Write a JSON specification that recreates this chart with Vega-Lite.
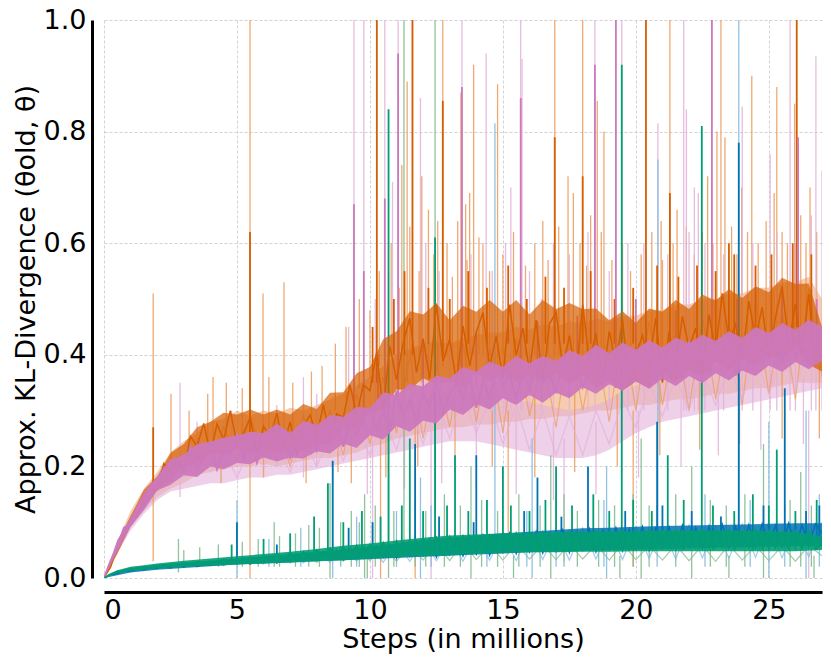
{
 "$schema": "https://vega.github.io/schema/vega-lite/v6.json",
 "width": 718,
 "height": 558,
 "autosize": {"type": "none"},
 "padding": {"left": 104, "top": 20, "right": 9, "bottom": 88},
 "background": "white",
 "config": {
  "view": {"stroke": null},
  "font": "DejaVu Sans",
  "axis": {
   "labelFont": "DejaVu Sans", "titleFont": "DejaVu Sans",
   "labelFontSize": 27, "titleFontSize": 27, "titleFontWeight": "normal",
   "labelColor": "black", "titleColor": "black",
   "domainColor": "black", "domainWidth": 3, "ticks": false,
   "grid": true, "gridDash": [3, 2], "gridColor": "#c8c8c8", "gridWidth": 0.8
  }
 },
 "datasets": {
  "lines": [
   {"s":"o","x":0,"y":0},{"s":"o","x":0.25,"y":0.02},{"s":"o","x":0.5,"y":0.055},{"s":"o","x":0.75,"y":0.073},{"s":"o","x":1,"y":0.105},{"s":"o","x":1.25,"y":0.11},{"s":"o","x":1.5,"y":0.15},{"s":"o","x":1.75,"y":0.157},{"s":"o","x":2,"y":0.158},{"s":"o","x":2.25,"y":0.205},{"s":"o","x":2.5,"y":0.192},{"s":"o","x":2.75,"y":0.215},{"s":"o","x":3,"y":0.19},{"s":"o","x":3.25,"y":0.254},{"s":"o","x":3.5,"y":0.236},{"s":"o","x":3.75,"y":0.277},{"s":"o","x":4,"y":0.222},{"s":"o","x":4.25,"y":0.276},{"s":"o","x":4.5,"y":0.248},{"s":"o","x":4.75,"y":0.3},{"s":"o","x":5,"y":0.24},{"s":"o","x":5.25,"y":0.26},{"s":"o","x":5.5,"y":0.288},{"s":"o","x":5.75,"y":0.224},{"s":"o","x":6,"y":0.272},{"s":"o","x":6.25,"y":0.252},{"s":"o","x":6.5,"y":0.296},{"s":"o","x":6.75,"y":0.236},{"s":"o","x":7,"y":0.28},{"s":"o","x":7.25,"y":0.22},{"s":"o","x":7.5,"y":0.273},{"s":"o","x":7.75,"y":0.292},{"s":"o","x":8,"y":0.254},{"s":"o","x":8.25,"y":0.31},{"s":"o","x":8.5,"y":0.253},{"s":"o","x":8.75,"y":0.294},{"s":"o","x":9,"y":0.288},{"s":"o","x":9.25,"y":0.346},{"s":"o","x":9.5,"y":0.292},{"s":"o","x":9.75,"y":0.346},{"s":"o","x":10,"y":0.336},{"s":"o","x":10.25,"y":0.404},{"s":"o","x":10.5,"y":0.3},{"s":"o","x":10.75,"y":0.415},{"s":"o","x":11,"y":0.355},{"s":"o","x":11.25,"y":0.421},{"s":"o","x":11.5,"y":0.466},{"s":"o","x":11.75,"y":0.368},{"s":"o","x":12,"y":0.429},{"s":"o","x":12.25,"y":0.357},{"s":"o","x":12.5,"y":0.49},{"s":"o","x":12.75,"y":0.389},{"s":"o","x":13,"y":0.428},{"s":"o","x":13.25,"y":0.351},{"s":"o","x":13.5,"y":0.452},{"s":"o","x":13.75,"y":0.38},{"s":"o","x":14,"y":0.441},{"s":"o","x":14.25,"y":0.476},{"s":"o","x":14.5,"y":0.378},{"s":"o","x":14.75,"y":0.434},{"s":"o","x":15,"y":0.357},{"s":"o","x":15.25,"y":0.49},{"s":"o","x":15.5,"y":0.399},{"s":"o","x":15.75,"y":0.448},{"s":"o","x":16,"y":0.371},{"s":"o","x":16.25,"y":0.462},{"s":"o","x":16.5,"y":0.35},{"s":"o","x":16.75,"y":0.455},{"s":"o","x":17,"y":0.476},{"s":"o","x":17.25,"y":0.378},{"s":"o","x":17.5,"y":0.434},{"s":"o","x":17.75,"y":0.357},{"s":"o","x":18,"y":0.49},{"s":"o","x":18.25,"y":0.389},{"s":"o","x":18.5,"y":0.438},{"s":"o","x":18.75,"y":0.351},{"s":"o","x":19,"y":0.442},{"s":"o","x":19.25,"y":0.386},{"s":"o","x":19.5,"y":0.463},{"s":"o","x":19.75,"y":0.344},{"s":"o","x":20,"y":0.4},{"s":"o","x":20.25,"y":0.435},{"s":"o","x":20.5,"y":0.382},{"s":"o","x":20.75,"y":0.466},{"s":"o","x":21,"y":0.35},{"s":"o","x":21.25,"y":0.441},{"s":"o","x":21.5,"y":0.378},{"s":"o","x":21.75,"y":0.469},{"s":"o","x":22,"y":0.413},{"s":"o","x":22.25,"y":0.448},{"s":"o","x":22.5,"y":0.367},{"s":"o","x":22.75,"y":0.472},{"s":"o","x":23,"y":0.405},{"s":"o","x":23.25,"y":0.51},{"s":"o","x":23.5,"y":0.426},{"s":"o","x":23.75,"y":0.454},{"s":"o","x":24,"y":0.391},{"s":"o","x":24.25,"y":0.496},{"s":"o","x":24.5,"y":0.429},{"s":"o","x":24.75,"y":0.485},{"s":"o","x":25,"y":0.394},{"s":"o","x":25.25,"y":0.467},{"s":"o","x":25.5,"y":0.523},{"s":"o","x":25.75,"y":0.418},{"s":"o","x":26,"y":0.491},{"s":"o","x":26.25,"y":0.4},{"s":"o","x":26.5,"y":0.509},{"s":"o","x":26.75,"y":0.384},{"s":"o","x":27,"y":0.41},

   {"s":"p","x":0,"y":0},{"s":"p","x":0.25,"y":0.031},{"s":"p","x":0.5,"y":0.054},{"s":"p","x":0.75,"y":0.09},{"s":"p","x":1,"y":0.096},{"s":"p","x":1.25,"y":0.123},{"s":"p","x":1.5,"y":0.127},{"s":"p","x":1.75,"y":0.167},{"s":"p","x":2,"y":0.168},{"s":"p","x":2.25,"y":0.196},{"s":"p","x":2.5,"y":0.176},{"s":"p","x":2.75,"y":0.205},{"s":"p","x":3,"y":0.191},{"s":"p","x":3.25,"y":0.235},{"s":"p","x":3.5,"y":0.195},{"s":"p","x":3.75,"y":0.215},{"s":"p","x":4,"y":0.241},{"s":"p","x":4.25,"y":0.195},{"s":"p","x":4.5,"y":0.234},{"s":"p","x":4.75,"y":0.222},{"s":"p","x":5,"y":0.257},{"s":"p","x":5.25,"y":0.214},{"s":"p","x":5.5,"y":0.25},{"s":"p","x":5.75,"y":0.207},{"s":"p","x":6,"y":0.246},{"s":"p","x":6.25,"y":0.258},{"s":"p","x":6.5,"y":0.228},{"s":"p","x":6.75,"y":0.264},{"s":"p","x":7,"y":0.216},{"s":"p","x":7.25,"y":0.245},{"s":"p","x":7.5,"y":0.236},{"s":"p","x":7.75,"y":0.274},{"s":"p","x":8,"y":0.229},{"s":"p","x":8.25,"y":0.266},{"s":"p","x":8.5,"y":0.254},{"s":"p","x":8.75,"y":0.282},{"s":"p","x":9,"y":0.235},{"s":"p","x":9.25,"y":0.284},{"s":"p","x":9.5,"y":0.257},{"s":"p","x":9.75,"y":0.285},{"s":"p","x":10,"y":0.304},{"s":"p","x":10.25,"y":0.264},{"s":"p","x":10.5,"y":0.297},{"s":"p","x":10.75,"y":0.263},{"s":"p","x":11,"y":0.335},{"s":"p","x":11.25,"y":0.291},{"s":"p","x":11.5,"y":0.319},{"s":"p","x":11.75,"y":0.282},{"s":"p","x":12,"y":0.331},{"s":"p","x":12.25,"y":0.308},{"s":"p","x":12.5,"y":0.352},{"s":"p","x":12.75,"y":0.297},{"s":"p","x":13,"y":0.33},{"s":"p","x":13.25,"y":0.35},{"s":"p","x":13.5,"y":0.321},{"s":"p","x":13.75,"y":0.365},{"s":"p","x":14,"y":0.305},{"s":"p","x":14.25,"y":0.353},{"s":"p","x":14.5,"y":0.324},{"s":"p","x":14.75,"y":0.372},{"s":"p","x":15,"y":0.346},{"s":"p","x":15.25,"y":0.365},{"s":"p","x":15.5,"y":0.32},{"s":"p","x":15.75,"y":0.374},{"s":"p","x":16,"y":0.337},{"s":"p","x":16.25,"y":0.391},{"s":"p","x":16.5,"y":0.35},{"s":"p","x":16.75,"y":0.365},{"s":"p","x":17,"y":0.335},{"s":"p","x":17.25,"y":0.39},{"s":"p","x":17.5,"y":0.354},{"s":"p","x":17.75,"y":0.385},{"s":"p","x":18,"y":0.342},{"s":"p","x":18.25,"y":0.375},{"s":"p","x":18.5,"y":0.404},{"s":"p","x":18.75,"y":0.352},{"s":"p","x":19,"y":0.386},{"s":"p","x":19.25,"y":0.341},{"s":"p","x":19.5,"y":0.402},{"s":"p","x":19.75,"y":0.364},{"s":"p","x":20,"y":0.401},{"s":"p","x":20.25,"y":0.374},{"s":"p","x":20.5,"y":0.41},{"s":"p","x":20.75,"y":0.351},{"s":"p","x":21,"y":0.399},{"s":"p","x":21.25,"y":0.368},{"s":"p","x":21.5,"y":0.394},{"s":"p","x":21.75,"y":0.363},{"s":"p","x":22,"y":0.425},{"s":"p","x":22.25,"y":0.387},{"s":"p","x":22.5,"y":0.41},{"s":"p","x":22.75,"y":0.365},{"s":"p","x":23,"y":0.416},{"s":"p","x":23.25,"y":0.385},{"s":"p","x":23.5,"y":0.429},{"s":"p","x":23.75,"y":0.363},{"s":"p","x":24,"y":0.411},{"s":"p","x":24.25,"y":0.388},{"s":"p","x":24.5,"y":0.43},{"s":"p","x":24.75,"y":0.386},{"s":"p","x":25,"y":0.414},{"s":"p","x":25.25,"y":0.429},{"s":"p","x":25.5,"y":0.387},{"s":"p","x":25.75,"y":0.441},{"s":"p","x":26,"y":0.394},{"s":"p","x":26.25,"y":0.423},{"s":"p","x":26.5,"y":0.385},{"s":"p","x":26.75,"y":0.446},{"s":"p","x":27,"y":0.41},

   {"s":"b","x":0,"y":0},{"s":"b","x":0.25,"y":0.006},{"s":"b","x":0.5,"y":0.008},{"s":"b","x":0.75,"y":0.014},{"s":"b","x":1,"y":0.012},{"s":"b","x":1.25,"y":0.017},{"s":"b","x":1.5,"y":0.015},{"s":"b","x":1.75,"y":0.02},{"s":"b","x":2,"y":0.017},{"s":"b","x":2.25,"y":0.023},{"s":"b","x":2.5,"y":0.018},{"s":"b","x":2.75,"y":0.024},{"s":"b","x":3,"y":0.02},{"s":"b","x":3.25,"y":0.027},{"s":"b","x":3.5,"y":0.021},{"s":"b","x":3.75,"y":0.028},{"s":"b","x":4,"y":0.023},{"s":"b","x":4.25,"y":0.031},{"s":"b","x":4.5,"y":0.024},{"s":"b","x":4.75,"y":0.033},{"s":"b","x":5,"y":0.026},{"s":"b","x":5.25,"y":0.036},{"s":"b","x":5.5,"y":0.025},{"s":"b","x":5.75,"y":0.035},{"s":"b","x":6,"y":0.028},{"s":"b","x":6.25,"y":0.04},{"s":"b","x":6.5,"y":0.027},{"s":"b","x":6.75,"y":0.038},{"s":"b","x":7,"y":0.03},{"s":"b","x":7.25,"y":0.043},{"s":"b","x":7.5,"y":0.031},{"s":"b","x":7.75,"y":0.045},{"s":"b","x":8,"y":0.032},{"s":"b","x":8.25,"y":0.047},{"s":"b","x":8.5,"y":0.034},{"s":"b","x":8.75,"y":0.05},{"s":"b","x":9,"y":0.033},{"s":"b","x":9.25,"y":0.052},{"s":"b","x":9.5,"y":0.036},{"s":"b","x":9.75,"y":0.055},{"s":"b","x":10,"y":0.035},{"s":"b","x":10.25,"y":0.058},{"s":"b","x":10.5,"y":0.037},{"s":"b","x":10.75,"y":0.06},{"s":"b","x":11,"y":0.036},{"s":"b","x":11.25,"y":0.063},{"s":"b","x":11.5,"y":0.039},{"s":"b","x":11.75,"y":0.066},{"s":"b","x":12,"y":0.04},{"s":"b","x":12.25,"y":0.07},{"s":"b","x":12.5,"y":0.038},{"s":"b","x":12.75,"y":0.068},{"s":"b","x":13,"y":0.042},{"s":"b","x":13.25,"y":0.072},{"s":"b","x":13.5,"y":0.04},{"s":"b","x":13.75,"y":0.075},{"s":"b","x":14,"y":0.043},{"s":"b","x":14.25,"y":0.077},{"s":"b","x":14.5,"y":0.041},{"s":"b","x":14.75,"y":0.074},{"s":"b","x":15,"y":0.046},{"s":"b","x":15.25,"y":0.08},{"s":"b","x":15.5,"y":0.044},{"s":"b","x":15.75,"y":0.078},{"s":"b","x":16,"y":0.047},{"s":"b","x":16.25,"y":0.083},{"s":"b","x":16.5,"y":0.045},{"s":"b","x":16.75,"y":0.08},{"s":"b","x":17,"y":0.048},{"s":"b","x":17.25,"y":0.086},{"s":"b","x":17.5,"y":0.046},{"s":"b","x":17.75,"y":0.082},{"s":"b","x":18,"y":0.05},{"s":"b","x":18.25,"y":0.088},{"s":"b","x":18.5,"y":0.047},{"s":"b","x":18.75,"y":0.085},{"s":"b","x":19,"y":0.051},{"s":"b","x":19.25,"y":0.09},{"s":"b","x":19.5,"y":0.049},{"s":"b","x":19.75,"y":0.087},{"s":"b","x":20,"y":0.052},{"s":"b","x":20.25,"y":0.092},{"s":"b","x":20.5,"y":0.05},{"s":"b","x":20.75,"y":0.089},{"s":"b","x":21,"y":0.053},{"s":"b","x":21.25,"y":0.091},{"s":"b","x":21.5,"y":0.051},{"s":"b","x":21.75,"y":0.094},{"s":"b","x":22,"y":0.054},{"s":"b","x":22.25,"y":0.09},{"s":"b","x":22.5,"y":0.052},{"s":"b","x":22.75,"y":0.093},{"s":"b","x":23,"y":0.055},{"s":"b","x":23.25,"y":0.096},{"s":"b","x":23.5,"y":0.053},{"s":"b","x":23.75,"y":0.092},{"s":"b","x":24,"y":0.056},{"s":"b","x":24.25,"y":0.095},{"s":"b","x":24.5,"y":0.054},{"s":"b","x":24.75,"y":0.097},{"s":"b","x":25,"y":0.057},{"s":"b","x":25.25,"y":0.094},{"s":"b","x":25.5,"y":0.055},{"s":"b","x":25.75,"y":0.098},{"s":"b","x":26,"y":0.058},{"s":"b","x":26.25,"y":0.095},{"s":"b","x":26.5,"y":0.056},{"s":"b","x":26.75,"y":0.097},{"s":"b","x":27,"y":0.08},

   {"s":"g","x":0,"y":0},{"s":"g","x":0.25,"y":0.007},{"s":"g","x":0.5,"y":0.012},{"s":"g","x":0.75,"y":0.013},{"s":"g","x":1,"y":0.017},{"s":"g","x":1.25,"y":0.016},{"s":"g","x":1.5,"y":0.02},{"s":"g","x":1.75,"y":0.018},{"s":"g","x":2,"y":0.022},{"s":"g","x":2.25,"y":0.019},{"s":"g","x":2.5,"y":0.024},{"s":"g","x":2.75,"y":0.021},{"s":"g","x":3,"y":0.026},{"s":"g","x":3.25,"y":0.022},{"s":"g","x":3.5,"y":0.029},{"s":"g","x":3.75,"y":0.024},{"s":"g","x":4,"y":0.03},{"s":"g","x":4.25,"y":0.025},{"s":"g","x":4.5,"y":0.033},{"s":"g","x":4.75,"y":0.026},{"s":"g","x":5,"y":0.034},{"s":"g","x":5.25,"y":0.027},{"s":"g","x":5.5,"y":0.037},{"s":"g","x":5.75,"y":0.028},{"s":"g","x":6,"y":0.04},{"s":"g","x":6.25,"y":0.03},{"s":"g","x":6.5,"y":0.042},{"s":"g","x":6.75,"y":0.031},{"s":"g","x":7,"y":0.045},{"s":"g","x":7.25,"y":0.032},{"s":"g","x":7.5,"y":0.047},{"s":"g","x":7.75,"y":0.033},{"s":"g","x":8,"y":0.05},{"s":"g","x":8.25,"y":0.034},{"s":"g","x":8.5,"y":0.053},{"s":"g","x":8.75,"y":0.035},{"s":"g","x":9,"y":0.056},{"s":"g","x":9.25,"y":0.037},{"s":"g","x":9.5,"y":0.058},{"s":"g","x":9.75,"y":0.038},{"s":"g","x":10,"y":0.06},{"s":"g","x":10.25,"y":0.039},{"s":"g","x":10.5,"y":0.063},{"s":"g","x":10.75,"y":0.04},{"s":"g","x":11,"y":0.066},{"s":"g","x":11.25,"y":0.042},{"s":"g","x":11.5,"y":0.068},{"s":"g","x":11.75,"y":0.043},{"s":"g","x":12,"y":0.07},{"s":"g","x":12.25,"y":0.044},{"s":"g","x":12.5,"y":0.072},{"s":"g","x":12.75,"y":0.045},{"s":"g","x":13,"y":0.074},{"s":"g","x":13.25,"y":0.046},{"s":"g","x":13.5,"y":0.075},{"s":"g","x":13.75,"y":0.047},{"s":"g","x":14,"y":0.077},{"s":"g","x":14.25,"y":0.048},{"s":"g","x":14.5,"y":0.076},{"s":"g","x":14.75,"y":0.049},{"s":"g","x":15,"y":0.079},{"s":"g","x":15.25,"y":0.05},{"s":"g","x":15.5,"y":0.08},{"s":"g","x":15.75,"y":0.05},{"s":"g","x":16,"y":0.078},{"s":"g","x":16.25,"y":0.051},{"s":"g","x":16.5,"y":0.082},{"s":"g","x":16.75,"y":0.05},{"s":"g","x":17,"y":0.08},{"s":"g","x":17.25,"y":0.052},{"s":"g","x":17.5,"y":0.083},{"s":"g","x":17.75,"y":0.051},{"s":"g","x":18,"y":0.081},{"s":"g","x":18.25,"y":0.053},{"s":"g","x":18.5,"y":0.084},{"s":"g","x":18.75,"y":0.052},{"s":"g","x":19,"y":0.082},{"s":"g","x":19.25,"y":0.054},{"s":"g","x":19.5,"y":0.085},{"s":"g","x":19.75,"y":0.053},{"s":"g","x":20,"y":0.083},{"s":"g","x":20.25,"y":0.054},{"s":"g","x":20.5,"y":0.086},{"s":"g","x":20.75,"y":0.053},{"s":"g","x":21,"y":0.084},{"s":"g","x":21.25,"y":0.055},{"s":"g","x":21.5,"y":0.085},{"s":"g","x":21.75,"y":0.054},{"s":"g","x":22,"y":0.083},{"s":"g","x":22.25,"y":0.055},{"s":"g","x":22.5,"y":0.086},{"s":"g","x":22.75,"y":0.054},{"s":"g","x":23,"y":0.084},{"s":"g","x":23.25,"y":0.055},{"s":"g","x":23.5,"y":0.085},{"s":"g","x":23.75,"y":0.054},{"s":"g","x":24,"y":0.083},{"s":"g","x":24.25,"y":0.055},{"s":"g","x":24.5,"y":0.086},{"s":"g","x":24.75,"y":0.053},{"s":"g","x":25,"y":0.084},{"s":"g","x":25.25,"y":0.054},{"s":"g","x":25.5,"y":0.083},{"s":"g","x":25.75,"y":0.052},{"s":"g","x":26,"y":0.082},{"s":"g","x":26.25,"y":0.053},{"s":"g","x":26.5,"y":0.084},{"s":"g","x":26.75,"y":0.052},{"s":"g","x":27,"y":0.06},

   {"s":"ol","x":0,"y":0},{"s":"ol","x":0.5,"y":0.06},{"s":"ol","x":1,"y":0.11},{"s":"ol","x":1.5,"y":0.15},{"s":"ol","x":2,"y":0.17},{"s":"ol","x":2.5,"y":0.21},{"s":"ol","x":3,"y":0.19},{"s":"ol","x":3.5,"y":0.25},{"s":"ol","x":4,"y":0.2},{"s":"ol","x":4.5,"y":0.27},{"s":"ol","x":5,"y":0.21},{"s":"ol","x":5.5,"y":0.29},{"s":"ol","x":6,"y":0.22},{"s":"ol","x":6.5,"y":0.28},{"s":"ol","x":7,"y":0.2},{"s":"ol","x":7.5,"y":0.29},{"s":"ol","x":8,"y":0.23},{"s":"ol","x":8.5,"y":0.3},{"s":"ol","x":9,"y":0.22},{"s":"ol","x":9.5,"y":0.33},{"s":"ol","x":10,"y":0.24},{"s":"ol","x":10.5,"y":0.36},{"s":"ol","x":11,"y":0.26},{"s":"ol","x":11.5,"y":0.4},{"s":"ol","x":12,"y":0.25},{"s":"ol","x":12.5,"y":0.38},{"s":"ol","x":13,"y":0.27},{"s":"ol","x":13.5,"y":0.42},{"s":"ol","x":14,"y":0.28},{"s":"ol","x":14.5,"y":0.41},{"s":"ol","x":15,"y":0.26},{"s":"ol","x":15.5,"y":0.43},{"s":"ol","x":16,"y":0.29},{"s":"ol","x":16.5,"y":0.4},{"s":"ol","x":17,"y":0.27},{"s":"ol","x":17.5,"y":0.44},{"s":"ol","x":18,"y":0.3},{"s":"ol","x":18.5,"y":0.42},{"s":"ol","x":19,"y":0.28},{"s":"ol","x":19.5,"y":0.45},{"s":"ol","x":20,"y":0.3},{"s":"ol","x":20.5,"y":0.46},{"s":"ol","x":21,"y":0.31},{"s":"ol","x":21.5,"y":0.44},{"s":"ol","x":22,"y":0.3},{"s":"ol","x":22.5,"y":0.47},{"s":"ol","x":23,"y":0.32},{"s":"ol","x":23.5,"y":0.46},{"s":"ol","x":24,"y":0.31},{"s":"ol","x":24.5,"y":0.5},{"s":"ol","x":25,"y":0.33},{"s":"ol","x":25.5,"y":0.48},{"s":"ol","x":26,"y":0.32},{"s":"ol","x":26.5,"y":0.52},{"s":"ol","x":27,"y":0.36},

   {"s":"pl","x":0,"y":0},{"s":"pl","x":0.5,"y":0.055},{"s":"pl","x":1,"y":0.1},{"s":"pl","x":1.5,"y":0.135},{"s":"pl","x":2,"y":0.16},{"s":"pl","x":2.5,"y":0.185},{"s":"pl","x":3,"y":0.18},{"s":"pl","x":3.5,"y":0.22},{"s":"pl","x":4,"y":0.19},{"s":"pl","x":4.5,"y":0.23},{"s":"pl","x":5,"y":0.18},{"s":"pl","x":5.5,"y":0.235},{"s":"pl","x":6,"y":0.2},{"s":"pl","x":6.5,"y":0.24},{"s":"pl","x":7,"y":0.19},{"s":"pl","x":7.5,"y":0.25},{"s":"pl","x":8,"y":0.2},{"s":"pl","x":8.5,"y":0.26},{"s":"pl","x":9,"y":0.21},{"s":"pl","x":9.5,"y":0.27},{"s":"pl","x":10,"y":0.22},{"s":"pl","x":10.5,"y":0.29},{"s":"pl","x":11,"y":0.23},{"s":"pl","x":11.5,"y":0.31},{"s":"pl","x":12,"y":0.24},{"s":"pl","x":12.5,"y":0.32},{"s":"pl","x":13,"y":0.25},{"s":"pl","x":13.5,"y":0.33},{"s":"pl","x":14,"y":0.26},{"s":"pl","x":14.5,"y":0.32},{"s":"pl","x":15,"y":0.24},{"s":"pl","x":15.5,"y":0.31},{"s":"pl","x":16,"y":0.23},{"s":"pl","x":16.5,"y":0.3},{"s":"pl","x":17,"y":0.22},{"s":"pl","x":17.5,"y":0.29},{"s":"pl","x":18,"y":0.22},{"s":"pl","x":18.5,"y":0.3},{"s":"pl","x":19,"y":0.24},{"s":"pl","x":19.5,"y":0.32},{"s":"pl","x":20,"y":0.27},{"s":"pl","x":20.5,"y":0.35},{"s":"pl","x":21,"y":0.29},{"s":"pl","x":21.5,"y":0.36},{"s":"pl","x":22,"y":0.3},{"s":"pl","x":22.5,"y":0.37},{"s":"pl","x":23,"y":0.31},{"s":"pl","x":23.5,"y":0.38},{"s":"pl","x":24,"y":0.32},{"s":"pl","x":24.5,"y":0.39},{"s":"pl","x":25,"y":0.33},{"s":"pl","x":25.5,"y":0.4},{"s":"pl","x":26,"y":0.34},{"s":"pl","x":26.5,"y":0.41},{"s":"pl","x":27,"y":0.38},

   {"s":"bl","x":0,"y":0},{"s":"bl","x":0.5,"y":0.01},{"s":"bl","x":1,"y":0.016},{"s":"bl","x":1.5,"y":0.014},{"s":"bl","x":2,"y":0.022},{"s":"bl","x":2.5,"y":0.018},{"s":"bl","x":3,"y":0.028},{"s":"bl","x":3.5,"y":0.02},{"s":"bl","x":4,"y":0.03},{"s":"bl","x":4.5,"y":0.022},{"s":"bl","x":5,"y":0.034},{"s":"bl","x":5.5,"y":0.024},{"s":"bl","x":6,"y":0.038},{"s":"bl","x":6.5,"y":0.026},{"s":"bl","x":7,"y":0.042},{"s":"bl","x":7.5,"y":0.027},{"s":"bl","x":8,"y":0.05},{"s":"bl","x":8.5,"y":0.028},{"s":"bl","x":9,"y":0.055},{"s":"bl","x":9.5,"y":0.03},{"s":"bl","x":10,"y":0.06},{"s":"bl","x":10.5,"y":0.028},{"s":"bl","x":11,"y":0.065},{"s":"bl","x":11.5,"y":0.03},{"s":"bl","x":12,"y":0.07},{"s":"bl","x":12.5,"y":0.031},{"s":"bl","x":13,"y":0.072},{"s":"bl","x":13.5,"y":0.03},{"s":"bl","x":14,"y":0.075},{"s":"bl","x":14.5,"y":0.032},{"s":"bl","x":15,"y":0.08},{"s":"bl","x":15.5,"y":0.031},{"s":"bl","x":16,"y":0.082},{"s":"bl","x":16.5,"y":0.033},{"s":"bl","x":17,"y":0.085},{"s":"bl","x":17.5,"y":0.032},{"s":"bl","x":18,"y":0.09},{"s":"bl","x":18.5,"y":0.034},{"s":"bl","x":19,"y":0.088},{"s":"bl","x":19.5,"y":0.033},{"s":"bl","x":20,"y":0.092},{"s":"bl","x":20.5,"y":0.035},{"s":"bl","x":21,"y":0.09},{"s":"bl","x":21.5,"y":0.034},{"s":"bl","x":22,"y":0.095},{"s":"bl","x":22.5,"y":0.036},{"s":"bl","x":23,"y":0.093},{"s":"bl","x":23.5,"y":0.035},{"s":"bl","x":24,"y":0.097},{"s":"bl","x":24.5,"y":0.037},{"s":"bl","x":25,"y":0.1},{"s":"bl","x":25.5,"y":0.036},{"s":"bl","x":26,"y":0.098},{"s":"bl","x":26.5,"y":0.038},{"s":"bl","x":27,"y":0.1},

   {"s":"gl","x":0,"y":0},{"s":"gl","x":0.5,"y":0.012},{"s":"gl","x":1,"y":0.015},{"s":"gl","x":1.5,"y":0.02},{"s":"gl","x":2,"y":0.018},{"s":"gl","x":2.5,"y":0.025},{"s":"gl","x":3,"y":0.02},{"s":"gl","x":3.5,"y":0.03},{"s":"gl","x":4,"y":0.022},{"s":"gl","x":4.5,"y":0.034},{"s":"gl","x":5,"y":0.024},{"s":"gl","x":5.5,"y":0.038},{"s":"gl","x":6,"y":0.025},{"s":"gl","x":6.5,"y":0.042},{"s":"gl","x":7,"y":0.027},{"s":"gl","x":7.5,"y":0.046},{"s":"gl","x":8,"y":0.028},{"s":"gl","x":8.5,"y":0.05},{"s":"gl","x":9,"y":0.03},{"s":"gl","x":9.5,"y":0.055},{"s":"gl","x":10,"y":0.031},{"s":"gl","x":10.5,"y":0.058},{"s":"gl","x":11,"y":0.03},{"s":"gl","x":11.5,"y":0.06},{"s":"gl","x":12,"y":0.032},{"s":"gl","x":12.5,"y":0.062},{"s":"gl","x":13,"y":0.031},{"s":"gl","x":13.5,"y":0.063},{"s":"gl","x":14,"y":0.033},{"s":"gl","x":14.5,"y":0.06},{"s":"gl","x":15,"y":0.032},{"s":"gl","x":15.5,"y":0.062},{"s":"gl","x":16,"y":0.034},{"s":"gl","x":16.5,"y":0.06},{"s":"gl","x":17,"y":0.033},{"s":"gl","x":17.5,"y":0.061},{"s":"gl","x":18,"y":0.034},{"s":"gl","x":18.5,"y":0.06},{"s":"gl","x":19,"y":0.032},{"s":"gl","x":19.5,"y":0.062},{"s":"gl","x":20,"y":0.033},{"s":"gl","x":20.5,"y":0.058},{"s":"gl","x":21,"y":0.032},{"s":"gl","x":21.5,"y":0.06},{"s":"gl","x":22,"y":0.031},{"s":"gl","x":22.5,"y":0.059},{"s":"gl","x":23,"y":0.03},{"s":"gl","x":23.5,"y":0.06},{"s":"gl","x":24,"y":0.032},{"s":"gl","x":24.5,"y":0.058},{"s":"gl","x":25,"y":0.031},{"s":"gl","x":25.5,"y":0.057},{"s":"gl","x":26,"y":0.03},{"s":"gl","x":26.5,"y":0.058},{"s":"gl","x":27,"y":0.04}
  ],
  "bands": [
   {"s":"ol","x":0,"lo":0,"hi":0},{"s":"ol","x":0.5,"lo":0.045,"hi":0.065},{"s":"ol","x":1,"lo":0.09,"hi":0.12},{"s":"ol","x":1.5,"lo":0.12,"hi":0.16},{"s":"ol","x":2,"lo":0.145,"hi":0.19},{"s":"ol","x":2.5,"lo":0.16,"hi":0.225},{"s":"ol","x":3,"lo":0.17,"hi":0.245},{"s":"ol","x":3.5,"lo":0.185,"hi":0.26},{"s":"ol","x":4,"lo":0.19,"hi":0.28},{"s":"ol","x":4.5,"lo":0.195,"hi":0.285},{"s":"ol","x":5,"lo":0.2,"hi":0.3},{"s":"ol","x":5.5,"lo":0.2,"hi":0.29},{"s":"ol","x":6,"lo":0.205,"hi":0.3},{"s":"ol","x":6.5,"lo":0.2,"hi":0.295},{"s":"ol","x":7,"lo":0.205,"hi":0.305},{"s":"ol","x":7.5,"lo":0.21,"hi":0.3},{"s":"ol","x":8,"lo":0.215,"hi":0.31},{"s":"ol","x":8.5,"lo":0.215,"hi":0.32},{"s":"ol","x":9,"lo":0.22,"hi":0.33},{"s":"ol","x":9.5,"lo":0.225,"hi":0.345},{"s":"ol","x":10,"lo":0.235,"hi":0.36},{"s":"ol","x":10.5,"lo":0.24,"hi":0.38},{"s":"ol","x":11,"lo":0.25,"hi":0.4},{"s":"ol","x":11.5,"lo":0.255,"hi":0.41},{"s":"ol","x":12,"lo":0.26,"hi":0.42},{"s":"ol","x":12.5,"lo":0.265,"hi":0.425},{"s":"ol","x":13,"lo":0.27,"hi":0.42},{"s":"ol","x":13.5,"lo":0.27,"hi":0.43},{"s":"ol","x":14,"lo":0.275,"hi":0.435},{"s":"ol","x":14.5,"lo":0.275,"hi":0.44},{"s":"ol","x":15,"lo":0.28,"hi":0.44},{"s":"ol","x":15.5,"lo":0.28,"hi":0.45},{"s":"ol","x":16,"lo":0.285,"hi":0.445},{"s":"ol","x":16.5,"lo":0.285,"hi":0.455},{"s":"ol","x":17,"lo":0.29,"hi":0.45},{"s":"ol","x":17.5,"lo":0.29,"hi":0.46},{"s":"ol","x":18,"lo":0.295,"hi":0.455},{"s":"ol","x":18.5,"lo":0.3,"hi":0.465},{"s":"ol","x":19,"lo":0.3,"hi":0.46},{"s":"ol","x":19.5,"lo":0.305,"hi":0.47},{"s":"ol","x":20,"lo":0.31,"hi":0.47},{"s":"ol","x":20.5,"lo":0.31,"hi":0.48},{"s":"ol","x":21,"lo":0.315,"hi":0.48},{"s":"ol","x":21.5,"lo":0.32,"hi":0.49},{"s":"ol","x":22,"lo":0.32,"hi":0.49},{"s":"ol","x":22.5,"lo":0.325,"hi":0.5},{"s":"ol","x":23,"lo":0.33,"hi":0.5},{"s":"ol","x":23.5,"lo":0.33,"hi":0.51},{"s":"ol","x":24,"lo":0.335,"hi":0.51},{"s":"ol","x":24.5,"lo":0.34,"hi":0.52},{"s":"ol","x":25,"lo":0.34,"hi":0.52},{"s":"ol","x":25.5,"lo":0.345,"hi":0.53},{"s":"ol","x":26,"lo":0.35,"hi":0.53},{"s":"ol","x":26.5,"lo":0.35,"hi":0.54},{"s":"ol","x":27,"lo":0.35,"hi":0.5},

   {"s":"pl","x":0,"lo":0,"hi":0},{"s":"pl","x":0.5,"lo":0.045,"hi":0.06},{"s":"pl","x":1,"lo":0.085,"hi":0.105},{"s":"pl","x":1.5,"lo":0.115,"hi":0.145},{"s":"pl","x":2,"lo":0.14,"hi":0.17},{"s":"pl","x":2.5,"lo":0.155,"hi":0.195},{"s":"pl","x":3,"lo":0.16,"hi":0.21},{"s":"pl","x":3.5,"lo":0.165,"hi":0.22},{"s":"pl","x":4,"lo":0.17,"hi":0.225},{"s":"pl","x":4.5,"lo":0.17,"hi":0.23},{"s":"pl","x":5,"lo":0.175,"hi":0.235},{"s":"pl","x":5.5,"lo":0.18,"hi":0.24},{"s":"pl","x":6,"lo":0.18,"hi":0.245},{"s":"pl","x":6.5,"lo":0.185,"hi":0.25},{"s":"pl","x":7,"lo":0.185,"hi":0.255},{"s":"pl","x":7.5,"lo":0.19,"hi":0.26},{"s":"pl","x":8,"lo":0.195,"hi":0.265},{"s":"pl","x":8.5,"lo":0.2,"hi":0.27},{"s":"pl","x":9,"lo":0.205,"hi":0.28},{"s":"pl","x":9.5,"lo":0.21,"hi":0.29},{"s":"pl","x":10,"lo":0.215,"hi":0.3},{"s":"pl","x":10.5,"lo":0.22,"hi":0.305},{"s":"pl","x":11,"lo":0.225,"hi":0.31},{"s":"pl","x":11.5,"lo":0.23,"hi":0.315},{"s":"pl","x":12,"lo":0.235,"hi":0.32},{"s":"pl","x":12.5,"lo":0.24,"hi":0.33},{"s":"pl","x":13,"lo":0.245,"hi":0.335},{"s":"pl","x":13.5,"lo":0.245,"hi":0.335},{"s":"pl","x":14,"lo":0.245,"hi":0.33},{"s":"pl","x":14.5,"lo":0.24,"hi":0.33},{"s":"pl","x":15,"lo":0.235,"hi":0.325},{"s":"pl","x":15.5,"lo":0.23,"hi":0.32},{"s":"pl","x":16,"lo":0.225,"hi":0.315},{"s":"pl","x":16.5,"lo":0.22,"hi":0.31},{"s":"pl","x":17,"lo":0.215,"hi":0.305},{"s":"pl","x":17.5,"lo":0.215,"hi":0.3},{"s":"pl","x":18,"lo":0.215,"hi":0.305},{"s":"pl","x":18.5,"lo":0.22,"hi":0.31},{"s":"pl","x":19,"lo":0.23,"hi":0.32},{"s":"pl","x":19.5,"lo":0.245,"hi":0.335},{"s":"pl","x":20,"lo":0.26,"hi":0.345},{"s":"pl","x":20.5,"lo":0.27,"hi":0.355},{"s":"pl","x":21,"lo":0.28,"hi":0.36},{"s":"pl","x":21.5,"lo":0.285,"hi":0.365},{"s":"pl","x":22,"lo":0.29,"hi":0.37},{"s":"pl","x":22.5,"lo":0.295,"hi":0.375},{"s":"pl","x":23,"lo":0.3,"hi":0.38},{"s":"pl","x":23.5,"lo":0.305,"hi":0.385},{"s":"pl","x":24,"lo":0.31,"hi":0.39},{"s":"pl","x":24.5,"lo":0.315,"hi":0.395},{"s":"pl","x":25,"lo":0.32,"hi":0.4},{"s":"pl","x":25.5,"lo":0.325,"hi":0.405},{"s":"pl","x":26,"lo":0.33,"hi":0.41},{"s":"pl","x":26.5,"lo":0.335,"hi":0.415},{"s":"pl","x":27,"lo":0.34,"hi":0.42},

   {"s":"o","x":0,"lo":0,"hi":0},{"s":"o","x":0.5,"lo":0.043,"hi":0.062},{"s":"o","x":1,"lo":0.093,"hi":0.11},{"s":"o","x":1.5,"lo":0.127,"hi":0.158},{"s":"o","x":2,"lo":0.158,"hi":0.182},{"s":"o","x":2.5,"lo":0.176,"hi":0.224},{"s":"o","x":3,"lo":0.2,"hi":0.24},{"s":"o","x":3.5,"lo":0.205,"hi":0.27},{"s":"o","x":4,"lo":0.226,"hi":0.28},{"s":"o","x":4.5,"lo":0.219,"hi":0.296},{"s":"o","x":5,"lo":0.232,"hi":0.293},{"s":"o","x":5.5,"lo":0.224,"hi":0.302},{"s":"o","x":6,"lo":0.232,"hi":0.293},{"s":"o","x":6.5,"lo":0.223,"hi":0.302},{"s":"o","x":7,"lo":0.232,"hi":0.293},{"s":"o","x":7.5,"lo":0.228,"hi":0.312},{"s":"o","x":8,"lo":0.242,"hi":0.303},{"s":"o","x":8.5,"lo":0.238,"hi":0.332},{"s":"o","x":9,"lo":0.267,"hi":0.333},{"s":"o","x":9.5,"lo":0.268,"hi":0.367},{"s":"o","x":10,"lo":0.297,"hi":0.378},{"s":"o","x":10.5,"lo":0.302,"hi":0.428},{"s":"o","x":11,"lo":0.338,"hi":0.442},{"s":"o","x":11.5,"lo":0.337,"hi":0.478},{"s":"o","x":12,"lo":0.358,"hi":0.472},{"s":"o","x":12.5,"lo":0.347,"hi":0.493},{"s":"o","x":13,"lo":0.353,"hi":0.462},{"s":"o","x":13.5,"lo":0.342,"hi":0.488},{"s":"o","x":14,"lo":0.368,"hi":0.477},{"s":"o","x":14.5,"lo":0.352,"hi":0.498},{"s":"o","x":15,"lo":0.368,"hi":0.477},{"s":"o","x":15.5,"lo":0.352,"hi":0.498},{"s":"o","x":16,"lo":0.363,"hi":0.472},{"s":"o","x":16.5,"lo":0.352,"hi":0.498},{"s":"o","x":17,"lo":0.368,"hi":0.482},{"s":"o","x":17.5,"lo":0.347,"hi":0.493},{"s":"o","x":18,"lo":0.363,"hi":0.482},{"s":"o","x":18.5,"lo":0.342,"hi":0.483},{"s":"o","x":19,"lo":0.353,"hi":0.462},{"s":"o","x":19.5,"lo":0.337,"hi":0.478},{"s":"o","x":20,"lo":0.353,"hi":0.457},{"s":"o","x":20.5,"lo":0.342,"hi":0.483},{"s":"o","x":21,"lo":0.368,"hi":0.477},{"s":"o","x":21.5,"lo":0.352,"hi":0.498},{"s":"o","x":22,"lo":0.373,"hi":0.482},{"s":"o","x":22.5,"lo":0.362,"hi":0.508},{"s":"o","x":23,"lo":0.388,"hi":0.497},{"s":"o","x":23.5,"lo":0.372,"hi":0.518},{"s":"o","x":24,"lo":0.393,"hi":0.502},{"s":"o","x":24.5,"lo":0.382,"hi":0.523},{"s":"o","x":25,"lo":0.398,"hi":0.512},{"s":"o","x":25.5,"lo":0.392,"hi":0.538},{"s":"o","x":26,"lo":0.413,"hi":0.527},{"s":"o","x":26.5,"lo":0.382,"hi":0.528},{"s":"o","x":27,"lo":0.37,"hi":0.45},

   {"s":"p","x":0,"lo":0,"hi":0},{"s":"p","x":0.5,"lo":0.048,"hi":0.068},{"s":"p","x":1,"lo":0.092,"hi":0.108},{"s":"p","x":1.5,"lo":0.122,"hi":0.153},{"s":"p","x":2,"lo":0.157,"hi":0.182},{"s":"p","x":2.5,"lo":0.167,"hi":0.213},{"s":"p","x":3,"lo":0.184,"hi":0.221},{"s":"p","x":3.5,"lo":0.181,"hi":0.24},{"s":"p","x":4,"lo":0.2,"hi":0.244},{"s":"p","x":4.5,"lo":0.195,"hi":0.252},{"s":"p","x":5,"lo":0.206,"hi":0.255},{"s":"p","x":5.5,"lo":0.204,"hi":0.262},{"s":"p","x":6,"lo":0.216,"hi":0.26},{"s":"p","x":6.5,"lo":0.209,"hi":0.277},{"s":"p","x":7,"lo":0.216,"hi":0.26},{"s":"p","x":7.5,"lo":0.214,"hi":0.282},{"s":"p","x":8,"lo":0.227,"hi":0.274},{"s":"p","x":8.5,"lo":0.223,"hi":0.292},{"s":"p","x":9,"lo":0.241,"hi":0.289},{"s":"p","x":9.5,"lo":0.233,"hi":0.307},{"s":"p","x":10,"lo":0.256,"hi":0.304},{"s":"p","x":10.5,"lo":0.248,"hi":0.333},{"s":"p","x":11,"lo":0.272,"hi":0.328},{"s":"p","x":11.5,"lo":0.262,"hi":0.348},{"s":"p","x":12,"lo":0.282,"hi":0.343},{"s":"p","x":12.5,"lo":0.277,"hi":0.363},{"s":"p","x":13,"lo":0.302,"hi":0.358},{"s":"p","x":13.5,"lo":0.292,"hi":0.378},{"s":"p","x":14,"lo":0.312,"hi":0.37},{"s":"p","x":14.5,"lo":0.302,"hi":0.388},{"s":"p","x":15,"lo":0.322,"hi":0.378},{"s":"p","x":15.5,"lo":0.31,"hi":0.398},{"s":"p","x":16,"lo":0.328,"hi":0.385},{"s":"p","x":16.5,"lo":0.314,"hi":0.398},{"s":"p","x":17,"lo":0.332,"hi":0.389},{"s":"p","x":17.5,"lo":0.322,"hi":0.408},{"s":"p","x":18,"lo":0.342,"hi":0.398},{"s":"p","x":18.5,"lo":0.33,"hi":0.418},{"s":"p","x":19,"lo":0.347,"hi":0.403},{"s":"p","x":19.5,"lo":0.335,"hi":0.422},{"s":"p","x":20,"lo":0.352,"hi":0.409},{"s":"p","x":20.5,"lo":0.339,"hi":0.426},{"s":"p","x":21,"lo":0.357,"hi":0.413},{"s":"p","x":21.5,"lo":0.344,"hi":0.431},{"s":"p","x":22,"lo":0.362,"hi":0.42},{"s":"p","x":22.5,"lo":0.349,"hi":0.436},{"s":"p","x":23,"lo":0.367,"hi":0.425},{"s":"p","x":23.5,"lo":0.354,"hi":0.442},{"s":"p","x":24,"lo":0.372,"hi":0.43},{"s":"p","x":24.5,"lo":0.362,"hi":0.45},{"s":"p","x":25,"lo":0.381,"hi":0.439},{"s":"p","x":25.5,"lo":0.369,"hi":0.457},{"s":"p","x":26,"lo":0.387,"hi":0.445},{"s":"p","x":26.5,"lo":0.374,"hi":0.463},{"s":"p","x":27,"lo":0.39,"hi":0.45},

   {"s":"b","x":0,"lo":0,"hi":0},{"s":"b","x":1,"lo":0.01,"hi":0.018},{"s":"b","x":2,"lo":0.015,"hi":0.024},{"s":"b","x":3,"lo":0.018,"hi":0.028},{"s":"b","x":4,"lo":0.021,"hi":0.031},{"s":"b","x":5,"lo":0.024,"hi":0.035},{"s":"b","x":6,"lo":0.026,"hi":0.039},{"s":"b","x":7,"lo":0.028,"hi":0.043},{"s":"b","x":8,"lo":0.03,"hi":0.047},{"s":"b","x":9,"lo":0.032,"hi":0.051},{"s":"b","x":10,"lo":0.034,"hi":0.056},{"s":"b","x":11,"lo":0.036,"hi":0.062},{"s":"b","x":12,"lo":0.038,"hi":0.068},{"s":"b","x":13,"lo":0.04,"hi":0.072},{"s":"b","x":14,"lo":0.042,"hi":0.076},{"s":"b","x":15,"lo":0.044,"hi":0.08},{"s":"b","x":16,"lo":0.046,"hi":0.083},{"s":"b","x":17,"lo":0.047,"hi":0.086},{"s":"b","x":18,"lo":0.049,"hi":0.089},{"s":"b","x":19,"lo":0.05,"hi":0.09},{"s":"b","x":20,"lo":0.051,"hi":0.092},{"s":"b","x":21,"lo":0.052,"hi":0.093},{"s":"b","x":22,"lo":0.053,"hi":0.094},{"s":"b","x":23,"lo":0.054,"hi":0.095},{"s":"b","x":24,"lo":0.055,"hi":0.096},{"s":"b","x":25,"lo":0.056,"hi":0.097},{"s":"b","x":26,"lo":0.057,"hi":0.098},{"s":"b","x":27,"lo":0.058,"hi":0.098},

   {"s":"g","x":0,"lo":0,"hi":0},{"s":"g","x":0.5,"lo":0.009,"hi":0.014},{"s":"g","x":1,"lo":0.013,"hi":0.02},{"s":"g","x":1.5,"lo":0.015,"hi":0.023},{"s":"g","x":2,"lo":0.017,"hi":0.026},{"s":"g","x":3,"lo":0.02,"hi":0.031},{"s":"g","x":4,"lo":0.022,"hi":0.035},{"s":"g","x":5,"lo":0.024,"hi":0.039},{"s":"g","x":6,"lo":0.026,"hi":0.043},{"s":"g","x":7,"lo":0.028,"hi":0.047},{"s":"g","x":8,"lo":0.03,"hi":0.052},{"s":"g","x":9,"lo":0.032,"hi":0.058},{"s":"g","x":10,"lo":0.034,"hi":0.062},{"s":"g","x":11,"lo":0.037,"hi":0.067},{"s":"g","x":12,"lo":0.039,"hi":0.072},{"s":"g","x":13,"lo":0.041,"hi":0.076},{"s":"g","x":14,"lo":0.043,"hi":0.078},{"s":"g","x":15,"lo":0.045,"hi":0.08},{"s":"g","x":16,"lo":0.046,"hi":0.081},{"s":"g","x":17,"lo":0.046,"hi":0.082},{"s":"g","x":18,"lo":0.047,"hi":0.083},{"s":"g","x":19,"lo":0.047,"hi":0.084},{"s":"g","x":20,"lo":0.048,"hi":0.084},{"s":"g","x":21,"lo":0.048,"hi":0.085},{"s":"g","x":22,"lo":0.048,"hi":0.085},{"s":"g","x":23,"lo":0.048,"hi":0.085},{"s":"g","x":24,"lo":0.048,"hi":0.085},{"s":"g","x":25,"lo":0.048,"hi":0.084},{"s":"g","x":26,"lo":0.048,"hi":0.083},{"s":"g","x":27,"lo":0.05,"hi":0.075}
  ],
  "spikes": [
   {"s":"ol","x":1.85,"y":0.03,"y2":0.51},{"s":"ol","x":2.52,"y":0.2,"y2":0.33},{"s":"ol","x":4.1,"y":0.22,"y2":0.36},{"s":"ol","x":5.49,"y":0,"y2":1},{"s":"ol","x":5.98,"y":0.24,"y2":0.51},{"s":"ol","x":6.77,"y":0.24,"y2":0.53},{"s":"ol","x":10.4,"y":0,"y2":0.3},{"s":"ol","x":11.2,"y":0.3,"y2":0.74},{"s":"ol","x":11.4,"y":0.35,"y2":0.89},{"s":"ol","x":11.7,"y":0,"y2":0.3},{"s":"ol","x":11.95,"y":0.35,"y2":0.72},{"s":"ol","x":12.2,"y":0.35,"y2":0.66},{"s":"ol","x":12.55,"y":0.38,"y2":0.64},{"s":"ol","x":12.74,"y":0.38,"y2":1},{"s":"ol","x":13.3,"y":0.38,"y2":0.64},{"s":"ol","x":13.42,"y":0.38,"y2":0.87},{"s":"ol","x":13.6,"y":0.38,"y2":0.67},{"s":"ol","x":13.75,"y":0.4,"y2":0.69},{"s":"ol","x":13.9,"y":0.4,"y2":0.92},{"s":"ol","x":14.25,"y":0.4,"y2":0.6},{"s":"ol","x":14.8,"y":0.38,"y2":0.885},{"s":"ol","x":15.2,"y":0.05,"y2":0.3},{"s":"ol","x":16.5,"y":0.4,"y2":0.64},{"s":"ol","x":16.95,"y":0.4,"y2":1},{"s":"ol","x":17.45,"y":0.4,"y2":0.72},{"s":"ol","x":17.65,"y":0.4,"y2":0.69},{"s":"ol","x":18,"y":0.4,"y2":1},{"s":"ol","x":18.3,"y":0.4,"y2":0.65},{"s":"ol","x":18.55,"y":0.4,"y2":0.855},{"s":"ol","x":18.8,"y":0.4,"y2":0.8},{"s":"ol","x":19.9,"y":0.02,"y2":0.3},{"s":"ol","x":20.95,"y":0.4,"y2":0.64},{"s":"ol","x":21.28,"y":0.4,"y2":1},{"s":"ol","x":21.55,"y":0.4,"y2":0.66},{"s":"ol","x":22.7,"y":0.4,"y2":0.72},{"s":"ol","x":23.05,"y":0.4,"y2":0.8},{"s":"ol","x":23.2,"y":0.4,"y2":1},{"s":"ol","x":23.35,"y":0.4,"y2":0.79},{"s":"ol","x":23.98,"y":0.4,"y2":0.7},{"s":"ol","x":24.36,"y":0.4,"y2":0.9},{"s":"ol","x":25.2,"y":0.4,"y2":0.69},{"s":"ol","x":25.3,"y":0.4,"y2":0.88},{"s":"ol","x":25.97,"y":0.4,"y2":0.85},{"s":"ol","x":26.55,"y":0.4,"y2":0.7},{"s":"ol","x":26.9,"y":0.25,"y2":0.4},
   {"s":"ol","x":3.2,"y":0.22,"y2":0.3},{"s":"ol","x":3.9,"y":0.22,"y2":0.33},{"s":"ol","x":4.6,"y":0.22,"y2":0.35},{"s":"ol","x":5.2,"y":0.22,"y2":0.34},{"s":"ol","x":6.2,"y":0.22,"y2":0.36},{"s":"ol","x":7.1,"y":0.22,"y2":0.35},{"s":"ol","x":7.8,"y":0.22,"y2":0.37},{"s":"ol","x":4.4,"y":0.17,"y2":0.25},{"s":"ol","x":6,"y":0.18,"y2":0.25},{"s":"ol","x":7.6,"y":0.17,"y2":0.25},{"s":"ol","x":8.8,"y":0.19,"y2":0.27},
   {"s":"ol","x":8.2,"y":0.3,"y2":0.38},{"s":"ol","x":8.7,"y":0.3,"y2":0.42},{"s":"ol","x":9.1,"y":0.32,"y2":0.45},{"s":"ol","x":9.6,"y":0.34,"y2":0.5},{"s":"ol","x":10,"y":0.36,"y2":0.48},{"s":"ol","x":10.35,"y":0.38,"y2":0.55},{"s":"ol","x":10.8,"y":0.4,"y2":0.6},{"s":"ol","x":11.1,"y":0.4,"y2":0.52},{"s":"ol","x":11.5,"y":0.4,"y2":0.63},{"s":"ol","x":11.85,"y":0.4,"y2":0.55},{"s":"ol","x":12.4,"y":0.4,"y2":0.58},{"s":"ol","x":12.9,"y":0.4,"y2":0.6},{"s":"ol","x":13.1,"y":0.4,"y2":0.54},{"s":"ol","x":13.65,"y":0.4,"y2":0.57},{"s":"ol","x":14.1,"y":0.4,"y2":0.61},{"s":"ol","x":14.5,"y":0.4,"y2":0.55},{"s":"ol","x":15,"y":0.4,"y2":0.58},{"s":"ol","x":15.4,"y":0.4,"y2":0.62},{"s":"ol","x":15.85,"y":0.4,"y2":0.56},{"s":"ol","x":16.2,"y":0.4,"y2":0.6},{"s":"ol","x":16.7,"y":0.4,"y2":0.57},{"s":"ol","x":17.1,"y":0.4,"y2":0.63},{"s":"ol","x":17.9,"y":0.4,"y2":0.6},{"s":"ol","x":18.15,"y":0.4,"y2":0.56},{"s":"ol","x":18.7,"y":0.4,"y2":0.62},{"s":"ol","x":19.1,"y":0.4,"y2":0.57},{"s":"ol","x":19.5,"y":0.4,"y2":0.6},{"s":"ol","x":19.8,"y":0.4,"y2":0.55},{"s":"ol","x":20.2,"y":0.4,"y2":0.58},{"s":"ol","x":20.6,"y":0.4,"y2":0.62},{"s":"ol","x":21,"y":0.4,"y2":0.57},{"s":"ol","x":21.4,"y":0.4,"y2":0.6},{"s":"ol","x":21.9,"y":0.4,"y2":0.63},{"s":"ol","x":22.2,"y":0.4,"y2":0.58},{"s":"ol","x":22.5,"y":0.4,"y2":0.62},{"s":"ol","x":22.9,"y":0.4,"y2":0.6},{"s":"ol","x":23.6,"y":0.4,"y2":0.63},{"s":"ol","x":23.8,"y":0.4,"y2":0.58},{"s":"ol","x":24.2,"y":0.4,"y2":0.62},{"s":"ol","x":24.6,"y":0.4,"y2":0.6},{"s":"ol","x":24.9,"y":0.4,"y2":0.64},{"s":"ol","x":25.5,"y":0.4,"y2":0.62},{"s":"ol","x":25.7,"y":0.4,"y2":0.6},{"s":"ol","x":26.2,"y":0.4,"y2":0.65},{"s":"ol","x":26.4,"y":0.4,"y2":0.6},{"s":"ol","x":26.8,"y":0.4,"y2":0.62},
   {"s":"ol","x":9.3,"y":0.17,"y2":0.3},{"s":"ol","x":10.6,"y":0.18,"y2":0.3},{"s":"ol","x":11.8,"y":0.2,"y2":0.32},{"s":"ol","x":13.2,"y":0.19,"y2":0.32},{"s":"ol","x":14.6,"y":0.2,"y2":0.33},{"s":"ol","x":16.2,"y":0.18,"y2":0.33},{"s":"ol","x":17.7,"y":0.19,"y2":0.33},{"s":"ol","x":19.3,"y":0.2,"y2":0.33},{"s":"ol","x":20.9,"y":0.22,"y2":0.35},{"s":"ol","x":22.4,"y":0.23,"y2":0.35},{"s":"ol","x":23.9,"y":0.24,"y2":0.36},{"s":"ol","x":25.5,"y":0.25,"y2":0.37},
   {"s":"pl","x":2.86,"y":0.145,"y2":0.35},{"s":"pl","x":7.5,"y":0.18,"y2":0.36},{"s":"pl","x":9.4,"y":0.3,"y2":1},{"s":"pl","x":9.77,"y":0.3,"y2":1},{"s":"pl","x":10.1,"y":0,"y2":0.28},{"s":"pl","x":10.56,"y":0.3,"y2":1},{"s":"pl","x":10.85,"y":0.3,"y2":0.71},{"s":"pl","x":11.06,"y":0.3,"y2":1},{"s":"pl","x":11.6,"y":0.3,"y2":1},{"s":"pl","x":11.9,"y":0.3,"y2":0.86},{"s":"pl","x":12.3,"y":0,"y2":0.3},{"s":"pl","x":13.46,"y":0.3,"y2":1},{"s":"pl","x":14.37,"y":0.3,"y2":0.94},{"s":"pl","x":15.3,"y":0.3,"y2":0.7},{"s":"pl","x":15.67,"y":0.3,"y2":1},{"s":"pl","x":15.72,"y":0.3,"y2":0.93},{"s":"pl","x":16.45,"y":0.3,"y2":0.5},{"s":"pl","x":17.3,"y":0.03,"y2":0.25},{"s":"pl","x":18.46,"y":0.3,"y2":1},{"s":"pl","x":19.47,"y":0.3,"y2":1},{"s":"pl","x":20.83,"y":0.3,"y2":0.815},{"s":"pl","x":21.8,"y":0.3,"y2":1},{"s":"pl","x":21.9,"y":0.3,"y2":0.84},{"s":"pl","x":22.2,"y":0.3,"y2":0.7},{"s":"pl","x":22.35,"y":0.3,"y2":0.69},{"s":"pl","x":24,"y":0.3,"y2":0.845},{"s":"pl","x":25.05,"y":0.3,"y2":0.76},{"s":"pl","x":25.8,"y":0.3,"y2":1},{"s":"pl","x":26.5,"y":0,"y2":0.3},{"s":"pl","x":26.77,"y":0.3,"y2":0.935},{"s":"pl","x":27,"y":0.3,"y2":0.73},
   {"s":"pl","x":3.5,"y":0.2,"y2":0.28},{"s":"pl","x":4.8,"y":0.2,"y2":0.3},{"s":"pl","x":6.5,"y":0.2,"y2":0.31},{"s":"pl","x":8,"y":0.2,"y2":0.33},
   {"s":"pl","x":9.2,"y":0.3,"y2":0.45},{"s":"pl","x":10.2,"y":0.3,"y2":0.5},{"s":"pl","x":10.7,"y":0.3,"y2":0.55},{"s":"pl","x":11.3,"y":0.3,"y2":0.52},{"s":"pl","x":12.1,"y":0.3,"y2":0.6},{"s":"pl","x":12.6,"y":0.3,"y2":0.55},{"s":"pl","x":13,"y":0.3,"y2":0.5},{"s":"pl","x":13.8,"y":0.3,"y2":0.58},{"s":"pl","x":14.6,"y":0.3,"y2":0.55},{"s":"pl","x":15.1,"y":0.3,"y2":0.6},{"s":"pl","x":16,"y":0.3,"y2":0.55},{"s":"pl","x":16.9,"y":0.3,"y2":0.6},{"s":"pl","x":17.5,"y":0.3,"y2":0.58},{"s":"pl","x":18.2,"y":0.3,"y2":0.62},{"s":"pl","x":19,"y":0.3,"y2":0.55},{"s":"pl","x":19.7,"y":0.3,"y2":0.6},{"s":"pl","x":20.3,"y":0.3,"y2":0.6},{"s":"pl","x":21.2,"y":0.3,"y2":0.58},{"s":"pl","x":22,"y":0.3,"y2":0.62},{"s":"pl","x":22.6,"y":0.3,"y2":0.6},{"s":"pl","x":23.3,"y":0.3,"y2":0.58},{"s":"pl","x":24.4,"y":0.3,"y2":0.6},{"s":"pl","x":25.3,"y":0.3,"y2":0.62},{"s":"pl","x":26,"y":0.3,"y2":0.6},{"s":"pl","x":26.6,"y":0.3,"y2":0.65},
   {"s":"pl","x":9.9,"y":0.15,"y2":0.28},{"s":"pl","x":11.3,"y":0.16,"y2":0.3},{"s":"pl","x":12.7,"y":0.17,"y2":0.3},{"s":"pl","x":14,"y":0.16,"y2":0.3},{"s":"pl","x":15.5,"y":0.15,"y2":0.3},{"s":"pl","x":16.9,"y":0.14,"y2":0.28},{"s":"pl","x":18.5,"y":0.15,"y2":0.28},{"s":"pl","x":20.1,"y":0.18,"y2":0.3},{"s":"pl","x":21.7,"y":0.2,"y2":0.32},{"s":"pl","x":23.1,"y":0.22,"y2":0.34},{"s":"pl","x":24.7,"y":0.23,"y2":0.35},{"s":"pl","x":26.3,"y":0.24,"y2":0.36},
   {"s":"gl","x":2.8,"y":0.01,"y2":0.07},{"s":"gl","x":6.4,"y":0.02,"y2":0.1},{"s":"gl","x":8.5,"y":0,"y2":0.17},{"s":"gl","x":9.8,"y":0,"y2":0.15},{"s":"gl","x":10.7,"y":0,"y2":0.27},{"s":"gl","x":11.28,"y":0.05,"y2":1},{"s":"gl","x":12.45,"y":0.05,"y2":1},{"s":"gl","x":13.8,"y":0,"y2":0.2},{"s":"gl","x":16.8,"y":0,"y2":0.22},{"s":"gl","x":20.2,"y":0,"y2":0.25},{"s":"gl","x":22.1,"y":0,"y2":0.2},{"s":"gl","x":24.8,"y":0,"y2":0.24},{"s":"gl","x":26.2,"y":0.02,"y2":0.19},
   {"s":"gl","x":3,"y":0.02,"y2":0.05},{"s":"gl","x":3.6,"y":0.02,"y2":0.055},{"s":"gl","x":4.3,"y":0.02,"y2":0.06},{"s":"gl","x":5.2,"y":0.02,"y2":0.065},{"s":"gl","x":5.8,"y":0.02,"y2":0.07},{"s":"gl","x":6.6,"y":0.02,"y2":0.075},{"s":"gl","x":7.2,"y":0.02,"y2":0.08},{"s":"gl","x":7.7,"y":0.02,"y2":0.095},{"s":"gl","x":8.1,"y":0.02,"y2":0.09},{"s":"gl","x":8.9,"y":0.02,"y2":0.1},{"s":"gl","x":9.3,"y":0.02,"y2":0.12},{"s":"gl","x":9.6,"y":0.02,"y2":0.1},{"s":"gl","x":10.2,"y":0.02,"y2":0.13},{"s":"gl","x":10.9,"y":0.02,"y2":0.12},{"s":"gl","x":11.7,"y":0.02,"y2":0.14},{"s":"gl","x":12.1,"y":0.02,"y2":0.12},{"s":"gl","x":12.8,"y":0.02,"y2":0.15},{"s":"gl","x":13.4,"y":0.02,"y2":0.13},{"s":"gl","x":14.2,"y":0.02,"y2":0.14},{"s":"gl","x":14.8,"y":0.02,"y2":0.12},{"s":"gl","x":15.6,"y":0.02,"y2":0.15},{"s":"gl","x":16.4,"y":0.02,"y2":0.13},{"s":"gl","x":17.3,"y":0.02,"y2":0.15},{"s":"gl","x":17.8,"y":0.02,"y2":0.12},{"s":"gl","x":18.6,"y":0.02,"y2":0.14},{"s":"gl","x":19.2,"y":0.02,"y2":0.13},{"s":"gl","x":19.9,"y":0.02,"y2":0.15},{"s":"gl","x":20.5,"y":0.02,"y2":0.13},{"s":"gl","x":21.5,"y":0.02,"y2":0.15},{"s":"gl","x":22.8,"y":0.02,"y2":0.14},{"s":"gl","x":23.4,"y":0.02,"y2":0.13},{"s":"gl","x":24.1,"y":0.02,"y2":0.15},{"s":"gl","x":25.8,"y":0.02,"y2":0.14},{"s":"gl","x":26.6,"y":0.02,"y2":0.13},
   {"s":"gl","x":9.9,"y":0,"y2":0.04},{"s":"gl","x":15.4,"y":0,"y2":0.04},{"s":"gl","x":19.4,"y":0,"y2":0.04},{"s":"gl","x":23.5,"y":0,"y2":0.04},{"s":"gl","x":26.7,"y":0,"y2":0.04},
   {"s":"bl","x":5,"y":0,"y2":0.14},{"s":"bl","x":8.6,"y":0,"y2":0.21},{"s":"bl","x":11.9,"y":0,"y2":0.18},{"s":"bl","x":14.7,"y":0.05,"y2":0.815},{"s":"bl","x":16.1,"y":0,"y2":0.25},{"s":"bl","x":18.9,"y":0,"y2":0.2},{"s":"bl","x":20.83,"y":0.05,"y2":0.75},{"s":"bl","x":23.87,"y":0.05,"y2":1},{"s":"bl","x":25,"y":0,"y2":0.28},{"s":"bl","x":26.4,"y":0,"y2":0.3},
   {"s":"bl","x":6.2,"y":0.02,"y2":0.07},{"s":"bl","x":7.4,"y":0.02,"y2":0.09},{"s":"bl","x":9.5,"y":0.02,"y2":0.11},{"s":"bl","x":11,"y":0.02,"y2":0.12},{"s":"bl","x":12.3,"y":0.02,"y2":0.13},{"s":"bl","x":14.4,"y":0.02,"y2":0.14},{"s":"bl","x":15.9,"y":0.02,"y2":0.12},{"s":"bl","x":17,"y":0.02,"y2":0.15},{"s":"bl","x":18.8,"y":0.02,"y2":0.14},{"s":"bl","x":20.8,"y":0.02,"y2":0.13},{"s":"bl","x":22.6,"y":0.02,"y2":0.15},{"s":"bl","x":24.3,"y":0.02,"y2":0.14},{"s":"bl","x":25.6,"y":0.02,"y2":0.13},{"s":"bl","x":26.9,"y":0.02,"y2":0.15}
  ],
  "dspikes": [
   {"s":"o","x":1.85,"y":0.17,"y2":0.27},{"s":"o","x":5.49,"y":0.26,"y2":0.62},{"s":"o","x":10.26,"y":0.35,"y2":1},{"s":"o","x":11.6,"y":0.4,"y2":1},{"s":"o","x":12.74,"y":0.4,"y2":0.855},{"s":"o","x":16.95,"y":0.42,"y2":0.79},{"s":"o","x":18,"y":0.42,"y2":0.72},{"s":"o","x":20.38,"y":0.42,"y2":1},{"s":"o","x":21.28,"y":0.42,"y2":0.69},{"s":"o","x":23.5,"y":0.42,"y2":0.6},{"s":"o","x":26.05,"y":0.45,"y2":1},
   {"s":"o","x":10.1,"y":0.35,"y2":0.45},{"s":"o","x":10.9,"y":0.4,"y2":0.5},{"s":"o","x":11.3,"y":0.4,"y2":0.55},{"s":"o","x":12.2,"y":0.42,"y2":0.52},{"s":"o","x":13,"y":0.42,"y2":0.5},{"s":"o","x":13.7,"y":0.42,"y2":0.55},{"s":"o","x":14.4,"y":0.42,"y2":0.52},{"s":"o","x":15.2,"y":0.42,"y2":0.56},{"s":"o","x":15.9,"y":0.42,"y2":0.5},{"s":"o","x":16.6,"y":0.42,"y2":0.54},{"s":"o","x":17.3,"y":0.42,"y2":0.52},{"s":"o","x":18.3,"y":0.42,"y2":0.55},{"s":"o","x":19.2,"y":0.42,"y2":0.5},{"s":"o","x":19.9,"y":0.42,"y2":0.52},{"s":"o","x":20.8,"y":0.42,"y2":0.56},{"s":"o","x":21.6,"y":0.42,"y2":0.54},{"s":"o","x":22.3,"y":0.42,"y2":0.56},{"s":"o","x":23,"y":0.42,"y2":0.55},{"s":"o","x":23.7,"y":0.42,"y2":0.58},{"s":"o","x":24.5,"y":0.42,"y2":0.56},{"s":"o","x":25.1,"y":0.42,"y2":0.58},{"s":"o","x":25.9,"y":0.42,"y2":0.6},{"s":"o","x":26.6,"y":0.42,"y2":0.58},
   {"s":"p","x":9.4,"y":0.27,"y2":0.67},{"s":"p","x":9.77,"y":0.27,"y2":0.55},{"s":"p","x":10.56,"y":0.29,"y2":0.68},{"s":"p","x":11.06,"y":0.3,"y2":0.94},{"s":"p","x":13.46,"y":0.33,"y2":0.88},{"s":"p","x":15.67,"y":0.35,"y2":0.86},{"s":"p","x":18.46,"y":0.37,"y2":0.92},{"s":"p","x":19.25,"y":0.38,"y2":1},{"s":"p","x":22.86,"y":0.39,"y2":1},{"s":"p","x":26.1,"y":0.41,"y2":0.79},
   {"s":"p","x":10.3,"y":0.3,"y2":0.4},{"s":"p","x":12,"y":0.32,"y2":0.42},{"s":"p","x":14,"y":0.34,"y2":0.44},{"s":"p","x":16.3,"y":0.36,"y2":0.46},{"s":"p","x":17.8,"y":0.37,"y2":0.47},{"s":"p","x":20,"y":0.38,"y2":0.5},{"s":"p","x":21.5,"y":0.39,"y2":0.48},{"s":"p","x":23.8,"y":0.4,"y2":0.5},{"s":"p","x":25.5,"y":0.41,"y2":0.52},{"s":"p","x":26.8,"y":0.42,"y2":0.5},
   {"s":"b","x":5,"y":0.03,"y2":0.1},{"s":"b","x":8.6,"y":0.04,"y2":0.21},{"s":"b","x":11.7,"y":0.05,"y2":0.24},{"s":"b","x":14,"y":0.05,"y2":0.22},{"s":"b","x":16.3,"y":0.05,"y2":0.18},{"s":"b","x":18.2,"y":0.06,"y2":0.2},{"s":"b","x":20.8,"y":0.06,"y2":0.28},{"s":"b","x":23.87,"y":0.07,"y2":0.78},{"s":"b","x":25.6,"y":0.07,"y2":0.34},
   {"s":"b","x":6.5,"y":0.03,"y2":0.06},{"s":"b","x":9.2,"y":0.04,"y2":0.09},{"s":"b","x":10.1,"y":0.04,"y2":0.1},{"s":"b","x":12.6,"y":0.05,"y2":0.11},{"s":"b","x":13.9,"y":0.05,"y2":0.1},{"s":"b","x":15.8,"y":0.05,"y2":0.12},{"s":"b","x":17.2,"y":0.06,"y2":0.11},{"s":"b","x":19.6,"y":0.06,"y2":0.12},{"s":"b","x":21,"y":0.06,"y2":0.13},{"s":"b","x":22.1,"y":0.06,"y2":0.12},{"s":"b","x":23.2,"y":0.06,"y2":0.11},{"s":"b","x":24.8,"y":0.06,"y2":0.13},{"s":"b","x":26.4,"y":0.06,"y2":0.12},{"s":"b","x":26.9,"y":0.06,"y2":0.13},
   {"s":"g","x":8.42,"y":0.04,"y2":0.17},{"s":"g","x":10.7,"y":0.05,"y2":0.84},{"s":"g","x":11.5,"y":0.05,"y2":0.25},{"s":"g","x":12.45,"y":0.05,"y2":0.61},{"s":"g","x":13.2,"y":0.05,"y2":0.22},{"s":"g","x":15,"y":0.05,"y2":0.2},{"s":"g","x":17,"y":0.05,"y2":0.2},{"s":"g","x":19.47,"y":0.06,"y2":0.92},{"s":"g","x":21.2,"y":0.06,"y2":0.22},{"s":"g","x":22.48,"y":0.06,"y2":0.81},{"s":"g","x":25.3,"y":0.06,"y2":0.23},
   {"s":"g","x":4.8,"y":0.03,"y2":0.06},{"s":"g","x":6,"y":0.03,"y2":0.07},{"s":"g","x":7,"y":0.04,"y2":0.08},{"s":"g","x":7.9,"y":0.04,"y2":0.11},{"s":"g","x":9,"y":0.04,"y2":0.1},{"s":"g","x":9.7,"y":0.04,"y2":0.12},{"s":"g","x":10.4,"y":0.05,"y2":0.11},{"s":"g","x":11.2,"y":0.05,"y2":0.13},{"s":"g","x":12,"y":0.05,"y2":0.12},{"s":"g","x":12.9,"y":0.05,"y2":0.13},{"s":"g","x":13.7,"y":0.05,"y2":0.12},{"s":"g","x":14.4,"y":0.05,"y2":0.14},{"s":"g","x":15.3,"y":0.05,"y2":0.13},{"s":"g","x":16,"y":0.05,"y2":0.12},{"s":"g","x":16.6,"y":0.05,"y2":0.14},{"s":"g","x":17.6,"y":0.05,"y2":0.13},{"s":"g","x":18.4,"y":0.05,"y2":0.15},{"s":"g","x":19,"y":0.05,"y2":0.12},{"s":"g","x":19.9,"y":0.05,"y2":0.14},{"s":"g","x":20.6,"y":0.05,"y2":0.12},{"s":"g","x":21.8,"y":0.05,"y2":0.14},{"s":"g","x":22.9,"y":0.05,"y2":0.13},{"s":"g","x":23.7,"y":0.05,"y2":0.12},{"s":"g","x":24.4,"y":0.05,"y2":0.15},{"s":"g","x":25,"y":0.05,"y2":0.13},{"s":"g","x":26,"y":0.05,"y2":0.12},{"s":"g","x":26.8,"y":0.05,"y2":0.14}
  ]
 },
 "encoding": {
  "x": {"field": "x", "type": "quantitative", "title": "Steps (in millions)", "scale": {"domain": [0, 27], "nice": false, "zero": false},
        "axis": {"values": [0, 5, 10, 15, 20, 25], "format": "d", "offset": 14, "labelPadding": 5, "titlePadding": 3}},
  "y": {"field": "y", "type": "quantitative", "title": "Approx. KL-Divergence (θold, θ)", "scale": {"domain": [0, 1], "nice": false},
        "axis": {"values": [0, 0.2, 0.4, 0.6, 0.8, 1], "format": ".1f", "offset": 12, "labelPadding": 6, "titlePadding": 3}},
  "color": {"field": "s", "type": "nominal", "legend": null,
            "scale": {"domain": ["o", "p", "b", "g", "ol", "pl", "bl", "gl"],
                      "range": ["#d55e00", "#cc78bc", "#0173b2", "#029e73", "#eb9a5c", "#e3b0d8", "#7cb8df", "#7db98a"]}}
 },
 "layer": [
  {"data": {"name": "bands"}, "transform": [{"filter": "datum.s == 'ol'"}], "mark": {"type": "area", "opacity": 0.5, "clip": true},
   "encoding": {"y": {"field": "lo", "type": "quantitative", "title": "Approx. KL-Divergence (θold, θ)"}, "y2": {"field": "hi"}}},
  {"data": {"name": "bands"}, "transform": [{"filter": "datum.s == 'pl'"}], "mark": {"type": "area", "opacity": 0.6, "clip": true},
   "encoding": {"y": {"field": "lo", "type": "quantitative", "title": "Approx. KL-Divergence (θold, θ)"}, "y2": {"field": "hi"}}},
  {"data": {"name": "spikes"}, "mark": {"type": "rule", "strokeWidth": 1.3, "opacity": 0.85, "clip": true}, "encoding": {"y2": {"field": "y2"}}},
  {"data": {"name": "lines"}, "transform": [{"filter": "datum.s == 'ol' || datum.s == 'pl' || datum.s == 'bl' || datum.s == 'gl'"}], "mark": {"type": "line", "strokeWidth": 1.2, "opacity": 0.7, "clip": true}},
  {"data": {"name": "dspikes"}, "mark": {"type": "rule", "strokeWidth": 1.8, "clip": true}, "encoding": {"y2": {"field": "y2"}}},
  {"data": {"name": "bands"}, "transform": [{"filter": "datum.s == 'o'"}], "mark": {"type": "area", "opacity": 0.7, "clip": true},
   "encoding": {"y": {"field": "lo", "type": "quantitative", "title": "Approx. KL-Divergence (θold, θ)"}, "y2": {"field": "hi"}}},
  {"data": {"name": "lines"}, "transform": [{"filter": "datum.s == 'o'"}], "mark": {"type": "line", "strokeWidth": 1.5, "clip": true}},
  {"data": {"name": "bands"}, "transform": [{"filter": "datum.s == 'b'"}], "mark": {"type": "area", "opacity": 0.85, "clip": true},
   "encoding": {"y": {"field": "lo", "type": "quantitative", "title": "Approx. KL-Divergence (θold, θ)"}, "y2": {"field": "hi"}}},
  {"data": {"name": "lines"}, "transform": [{"filter": "datum.s == 'b'"}], "mark": {"type": "line", "strokeWidth": 1.5, "clip": true}},
  {"data": {"name": "bands"}, "transform": [{"filter": "datum.s == 'p'"}], "mark": {"type": "area", "opacity": 0.95, "clip": true},
   "encoding": {"y": {"field": "lo", "type": "quantitative", "title": "Approx. KL-Divergence (θold, θ)"}, "y2": {"field": "hi"}}},
  {"data": {"name": "lines"}, "transform": [{"filter": "datum.s == 'p'"}], "mark": {"type": "line", "strokeWidth": 2, "clip": true}},
  {"data": {"name": "bands"}, "transform": [{"filter": "datum.s == 'g'"}], "mark": {"type": "area", "opacity": 0.9, "clip": true},
   "encoding": {"y": {"field": "lo", "type": "quantitative", "title": "Approx. KL-Divergence (θold, θ)"}, "y2": {"field": "hi"}}},
  {"data": {"name": "lines"}, "transform": [{"filter": "datum.s == 'g'"}], "mark": {"type": "line", "strokeWidth": 1.8, "clip": true}}
 ]
}
